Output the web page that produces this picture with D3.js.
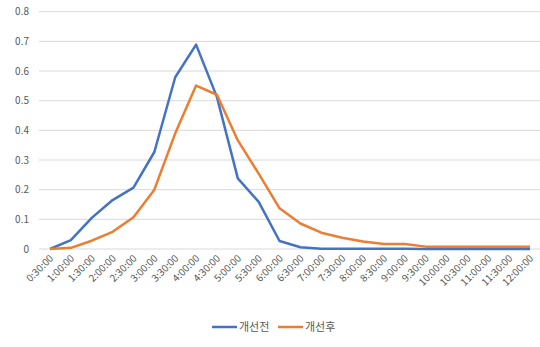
<!DOCTYPE html>
<html><head><meta charset="utf-8">
<script src="https://cdn.jsdelivr.net/npm/d3@7"></script>
<style>body{margin:0;background:#fff}svg{display:block}</style>
</head><body><svg id="c" width="540" height="347"></svg>
<script>
const categories = ["0:30:00","1:00:00","1:30:00","2:00:00","2:30:00","3:00:00","3:30:00","4:00:00","4:30:00","5:00:00","5:30:00","6:00:00","6:30:00","7:00:00","7:30:00","8:00:00","8:30:00","9:00:00","9:30:00","10:00:00","10:30:00","11:00:00","11:30:00","12:00:00"];
const before = [0,0.03,0.105,0.165,0.207,0.327,0.579,0.689,0.512,0.238,0.159,0.027,0.006,0.001,0.001,0.001,0.001,0.001,0,0,0,0,0,0];
const after = [0,0.004,0.028,0.058,0.107,0.2,0.39,0.551,0.52,0.366,0.254,0.137,0.086,0.055,0.038,0.025,0.017,0.017,0.008,0.008,0.008,0.008,0.008,0.008];
const seriesNames = ["개선전","개선후"];
const yTicks = [0,0.1,0.2,0.3,0.4,0.5,0.6,0.7,0.8];
const colors = ["#4472C4","#ED7D31"];

const svg = d3.select("#c");
const font = "'Noto Sans CJK KR','Noto Sans',sans-serif";
const x = d3.scalePoint().domain(categories).range([50,530]);
const y = d3.scaleLinear().domain([0,0.8]).range([249,11.7]);

svg.append("g").selectAll("line").data(yTicks).join("line")
  .attr("x1",39).attr("x2",540).attr("y1",d=>y(d)).attr("y2",d=>y(d))
  .attr("stroke","#d9d9d9").attr("stroke-width",1);

svg.append("g").selectAll("text").data(yTicks).join("text")
  .attr("x",29).attr("y",d=>y(d)+3.5).attr("text-anchor","end")
  .attr("font-family",font).attr("font-size",10).attr("fill","#595959")
  .text(d=>d===0?"0":d3.format(".1f")(d));

svg.append("g").selectAll("text").data(categories).join("text")
  .attr("transform",d=>`translate(${x(d)+4},${259}) rotate(-45)`)
  .attr("text-anchor","end").attr("font-family",font).attr("font-size",10).attr("fill","#595959")
  .text(d=>d);

const line = d3.line().x((d,i)=>x(categories[i])).y(d=>y(d));
[before,after].forEach((s,k)=>{
  svg.append("path").attr("d",line(s)).attr("fill","none")
    .attr("stroke",colors[k]).attr("stroke-width",2.5).attr("stroke-linejoin","round");
});

const legX = [212,278];
seriesNames.forEach((n,k)=>{
  svg.append("line").attr("x1",legX[k]).attr("x2",legX[k]+25).attr("y1",327).attr("y2",327)
    .attr("stroke",colors[k]).attr("stroke-width",2.5);
  svg.append("text").attr("x",legX[k]+27).attr("y",331).attr("font-family",font)
    .attr("font-size",11).attr("fill","#595959").text(n);
});
</script></body></html>
